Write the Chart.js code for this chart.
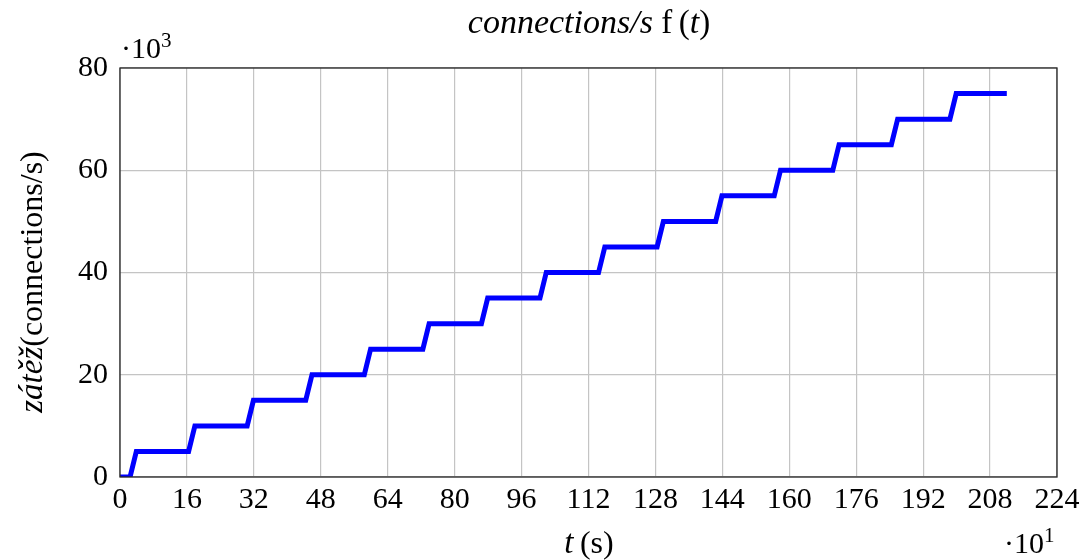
<!DOCTYPE html>
<html><head><meta charset="utf-8">
<script src="https://cdn.jsdelivr.net/npm/chart.js@4"></script>
<style>html,body{margin:0;padding:0;background:#fff}</style>
</head><body>
<canvas id="c" width="1086" height="560"></canvas>
<script>
// time in units of 10 s (axis shows ·10^1)
const timeValues = [0, 2.4, 3.9, 16.4, 17.9, 30.4, 31.9, 44.4, 45.9, 58.4, 59.9, 72.4, 73.9, 86.4, 87.9,
  100.4, 101.9, 114.4, 115.9, 128.4, 129.9, 142.4, 143.9, 156.4, 157.9, 170.4, 171.9, 184.4, 185.9,
  198.4, 199.9, 212];
// load in thousands of connections/s (axis shows ·10^3)
const loadValues = [0, 0, 5, 5, 10, 10, 15, 15, 20, 20, 25, 25, 30, 30, 35,
  35, 40, 40, 45, 45, 50, 50, 55, 55, 60, 60, 65, 65, 70,
  70, 75, 75];
const xTicks = [0, 16, 32, 48, 64, 80, 96, 112, 128, 144, 160, 176, 192, 208, 224];
const yTicks = [0, 20, 40, 60, 80];

const FAM = '"Liberation Serif", "DejaVu Serif", serif';

const textPlugin = {
  id: 'texts',
  afterDraw(chart) {
    const ctx = chart.ctx, a = chart.chartArea;
    ctx.save();
    ctx.strokeStyle = '#262626';
    ctx.lineWidth = 1.3;
    ctx.strokeRect(a.left, a.top, a.right - a.left, a.bottom - a.top);
    ctx.fillStyle = '#000';
    ctx.textBaseline = 'alphabetic';
    ctx.textAlign = 'left';
    function runs(parts, x, y, align) {
      let total = 0;
      parts.forEach(p => { ctx.font = p[1]; total += ctx.measureText(p[0]).width; });
      let cx = align === 'center' ? x - total / 2 : (align === 'right' ? x - total : x);
      parts.forEach(p => { ctx.font = p[1]; ctx.fillText(p[0], cx, y + (p[2] || 0)); cx += ctx.measureText(p[0]).width; });
    }
    const R = '30px ' + FAM, S = '21px ' + FAM;
    const TR = '33px ' + FAM, TI = 'italic 34px ' + FAM;
    const LR = '32px ' + FAM, LI = 'italic 33px ' + FAM;
    // title
    runs([['connections/s', TI], [' f\u2009(', TR], ['t', TI], [')', TR]], 589, 33, 'center');
    // x label
    runs([['t', LI], ['\u2009(s)', LR]], 589, 553, 'center');
    // multipliers
    runs([['\u00b710', R], ['3', S, -11]], 121, 58, 'left');
    runs([['\u00b710', R], ['1', S, -11]], 1004, 553, 'left');
    // y label
    ctx.translate(42, 282);
    ctx.rotate(-Math.PI / 2);
    runs([['z\u00e1t\u011b\u017e', LI], ['(connections/s)', LR]], 0, 0, 'center');
    ctx.restore();
  }
};

new Chart(document.getElementById('c'), {
  type: 'line',
  data: {
    datasets: [{
      data: timeValues.map((t, i) => ({ x: t, y: loadValues[i] })),
      borderColor: '#0000ff',
      borderWidth: 5,
      pointRadius: 0,
      fill: false,
      tension: 0,
      borderJoinStyle: 'miter'
    }]
  },
  options: {
    responsive: false,
    animation: false,
    layout: { padding: { left: 0, right: 29, top: 68, bottom: 0 } },
    plugins: { legend: { display: false }, tooltip: { enabled: false } },
    scales: {
      x: {
        type: 'linear', min: 0, max: 224,
        afterBuildTicks: s => { s.ticks = xTicks.map(v => ({ value: v })); },
        afterFit: s => { s.height = 83; },
        grid: { color: '#c4c4c4', lineWidth: 1.2, drawTicks: false },
        border: { display: false },
        ticks: { color: '#000', font: { family: FAM, size: 30 }, padding: 5, maxRotation: 0, autoSkip: false }
      },
      y: {
        type: 'linear', min: 0, max: 80,
        afterBuildTicks: s => { s.ticks = yTicks.map(v => ({ value: v })); },
        afterFit: s => { s.width = 120; },
        grid: { color: '#c4c4c4', lineWidth: 1.2, drawTicks: false },
        border: { display: false },
        ticks: { color: '#000', font: { family: FAM, size: 30 }, padding: 12 }
      }
    }
  },
  plugins: [textPlugin]
});
</script>
</body></html>
